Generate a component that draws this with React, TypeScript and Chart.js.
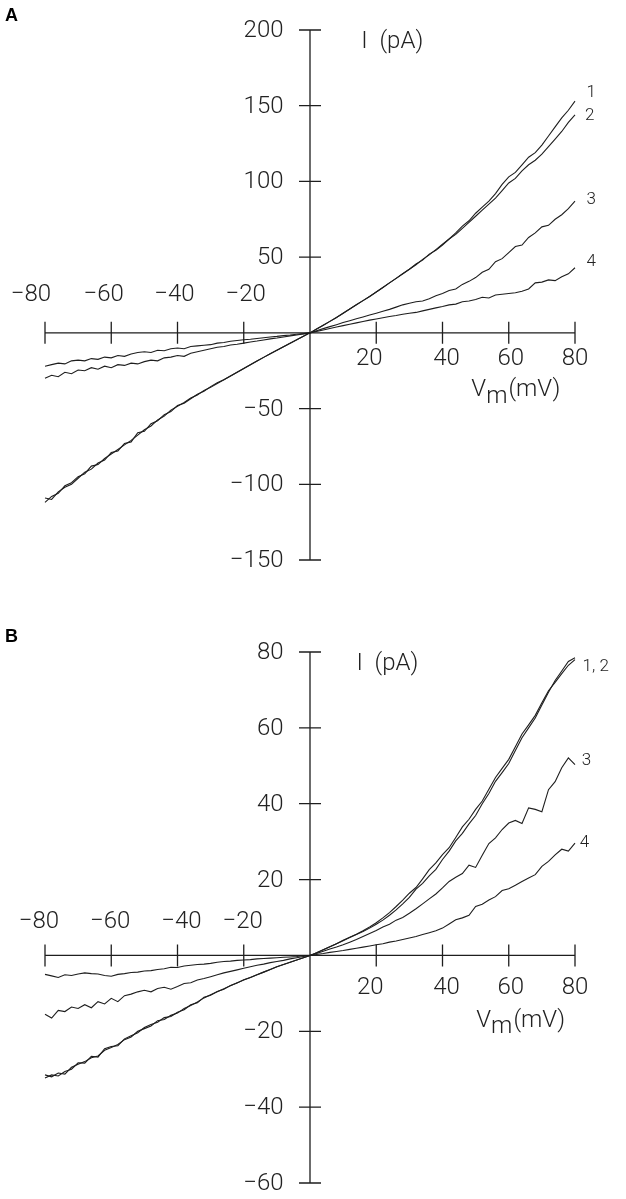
import React, { useEffect, useRef } from 'react';
import { Chart, registerables } from 'chart.js';

Chart.register(...registerables);

// Membrane potential (mV), sampled every 2 mV
const voltages = [
  -80, -78, -76, -74, -72, -70, -68, -66, -64, -62, -60, -58, -56, -54, -52, -50, -48, -46, -44, -42,
  -40, -38, -36, -34, -32, -30, -28, -26, -24, -22, -20, -18, -16, -14, -12, -10, -8, -6, -4, -2, 0,
  2, 4, 6, 8, 10, 12, 14, 16, 18, 20, 22, 24, 26, 28, 30, 32, 34, 36, 38, 40,
  42, 44, 46, 48, 50, 52, 54, 56, 58, 60, 62, 64, 66, 68, 70, 72, 74, 76, 78, 80,
];

// Panel A currents (pA)
const a1 = [
  -112, -108, -106, -101, -99, -95, -93, -88, -87, -83, -80, -77, -74, -71, -67.5, -64, -61.5, -57.5, -55, -51,
  -48.5, -46, -43, -41, -38, -36, -33.5, -31, -28.5, -26, -23.5, -21, -18.6, -16.2, -13.8, -11.5, -9.2, -6.9, -4.6, -2.3, 0,
  2.5, 5, 7.6, 10.2, 13, 15.8, 18.5, 21.3, 24, 27, 30, 33, 36, 39, 42, 45, 48.5, 51.5, 55, 58.5,
  62, 66, 70.5, 74, 79, 83, 87, 92, 98, 103, 106, 111, 116, 119, 124, 130, 136, 142, 147, 153,
];
const a2 = [
  -109, -110, -105, -102, -100, -96, -92, -90, -86, -84, -79, -78, -73, -72, -66, -65, -60, -58, -54, -52,
  -48, -46.5, -43.5, -40.5, -38.5, -35.5, -33, -31, -28.5, -26, -23.5, -21, -18.6, -16.2, -13.8, -11.5, -9.2, -6.9, -4.6, -2.3, 0,
  2.5, 5, 7.6, 10.2, 13, 15.8, 18.5, 21.3, 24, 27, 30, 33, 36, 39, 42, 45.5, 48, 52, 54.5, 58,
  62, 65, 69, 73, 77, 81, 85, 89, 94, 99, 102, 107, 111, 114, 118, 123, 128, 133, 139, 144,
];
const a3 = [
  -30, -28, -29, -26, -27, -24.5, -25, -23, -24, -22, -23, -21, -21.5, -20, -20.5, -19, -18, -18.5, -16.5, -16,
  -15, -15.5, -13.5, -12.5, -11.5, -10.5, -9.5, -9, -8, -7.5, -6.8, -6, -5.4, -4.7, -4, -3.4, -2.7, -2, -1.4, -0.7, 0,
  1.4, 2.8, 4.1, 5.4, 6.8, 8, 9.3, 10.5, 11.8, 13, 14.3, 15.5, 17, 18.5, 19.5, 20.5, 21, 22.5, 24.5, 26,
  28, 29, 32, 34, 36.5, 40, 42, 47, 49, 53, 57, 58, 63, 66, 70, 71, 75, 78, 82, 87,
];
const a4 = [
  -22, -21, -20, -20.5, -18.5, -18, -18.5, -17, -17.5, -16, -16.5, -15, -15.5, -14, -13, -12.5, -13, -11.5, -11.8, -10.5,
  -10, -10.5, -9, -8.6, -8.2, -7.8, -6.8, -6.4, -5.5, -5, -4.6, -4.2, -3.7, -3.2, -2.7, -2.3, -1.8, -1.4, -0.9, -0.5, 0,
  1, 1.9, 2.9, 3.9, 4.8, 5.7, 6.6, 7.5, 8.4, 9.2, 10, 10.8, 11.5, 12.3, 13, 13.5, 14.5, 15.5, 16.5, 17.4,
  18.5, 19, 20.5, 21, 22, 23.5, 23, 25, 25.5, 26, 26.5, 27.5, 29, 33, 33.5, 35, 34.5, 37, 39, 43,
];

// Panel B currents (pA)
const b1 = [
  -31.5, -32, -31, -31.3, -29.5, -28.7, -28, -27, -26.5, -25, -24.3, -23.5, -22.2, -21.5, -20, -19.3, -18.6, -17.2, -16.9, -15.8,
  -15.2, -14, -13.2, -12.3, -11.2, -10.4, -9.6, -8.8, -8, -7.2, -6.5, -5.8, -5.1, -4.4, -3.7, -3, -2.4, -1.8, -1.2, -0.6, 0,
  0.7, 1.5, 2.3, 3.1, 4, 4.8, 5.6, 6.5, 7.5, 8.6, 9.9, 11.3, 12.9, 14.6, 16.4, 17.9, 20.2, 22.6, 24.4, 26.6,
  28.4, 31.1, 33.9, 35.9, 38.5, 40.7, 43.8, 46.9, 49.3, 51.7, 55, 58.4, 60.8, 63.3, 66.6, 69.8, 72, 74.3, 76.5, 78,
];
const b2 = [
  -32.3, -31.5, -31.8, -30.6, -30, -28.3, -28.4, -26.6, -26.8, -24.6, -24, -23.8, -22, -21.2, -20.4, -19, -18.2, -17.6, -16.4, -16.1,
  -15, -14.3, -13, -12.5, -11, -10.5, -9.5, -8.9, -7.9, -7.3, -6.4, -5.8, -5.1, -4.4, -3.7, -3, -2.4, -1.8, -1.2, -0.6, 0,
  0.7, 1.5, 2.3, 3.1, 3.9, 4.7, 5.5, 6.3, 7.2, 8.2, 9.3, 10.6, 12, 13.6, 15.3, 17.5, 19, 21, 22.7, 25.3,
  27.5, 30.2, 32.2, 34.7, 36.9, 40, 42.7, 45.9, 48.2, 50.6, 54, 57.4, 60, 62.6, 66, 69.4, 72.5, 75, 77.5, 78.5,
];
const b3 = [
  -15.5, -16.5, -14.5, -14.8, -13.6, -14, -13, -13.8, -12.2, -12.8, -11.3, -12.2, -10.6, -10.2, -9.6, -9.2, -9.6, -8.7, -8.4, -8.9,
  -8.2, -7.4, -7.2, -6.5, -6.1, -5.6, -5.1, -4.6, -4.2, -3.8, -3.4, -3, -2.6, -2.3, -1.9, -1.6, -1.3, -0.9, -0.6, -0.3, 0,
  0.5, 1.1, 1.7, 2.2, 2.8, 3.5, 4.2, 5, 5.8, 6.6, 7.5, 8.2, 9.3, 10, 11.1, 12.3, 13.6, 14.9, 16.2, 17.8,
  19.5, 20.6, 21.6, 23.8, 23.2, 26.4, 29.5, 31, 33.2, 34.9, 35.6, 34.8, 38.9, 38.5, 37.9, 43.7, 45.8, 49.5, 52.1, 50.3,
];
const b4 = [
  -5, -5.4, -5.8, -5.1, -5.3, -4.9, -4.6, -4.8, -4.9, -5.3, -5.5, -5, -4.8, -4.5, -4.4, -4.1, -4, -3.7, -3.5, -3.1,
  -3.2, -2.8, -2.6, -2.4, -2.3, -2.1, -1.8, -1.6, -1.5, -1.3, -1.2, -1.1, -0.9, -0.8, -0.7, -0.6, -0.5, -0.4, -0.3, -0.1, 0,
  0.25, 0.5, 0.8, 1.05, 1.3, 1.6, 1.9, 2.2, 2.5, 2.8, 3.1, 3.5, 3.8, 4.2, 4.6, 5, 5.5, 6, 6.5, 7.2,
  8.3, 9.4, 9.9, 10.6, 12.9, 13.5, 14.6, 15.5, 17.1, 17.6, 18.5, 19.5, 20.4, 21.3, 23.5, 24.8, 26.5, 28, 27.5, 29.6,
];

// Tick values
const xTicks = [-80, -60, -40, -20, 20, 40, 60, 80];
const yTicksA = [200, 150, 100, 50, -50, -100, -150];
const yTicksB = [80, 60, 40, 20, -20, -40, -60];

const INK = '#1e1e1e';
const TICK_FONT = '300 24px Roboto, "Liberation Sans", sans-serif';
const SMALL_FONT = '300 17px Roboto, "Liberation Sans", sans-serif';
const LETTER_FONT = 'bold 18px "Liberation Sans", Arial, sans-serif';

type PanelCfg = {
  letter: string;
  letterY: number;
  series: number[][];
  yMin: number;
  yMax: number;
  yTicks: number[];
  padding: { left: number; right: number; top: number; bottom: number };
  negLabelDy: number;
  posLabelDy: number;
  negNudge: number[];
  posNudge: number[];
  yTitle: { v: number; i: number };
  xTitle: { v: number; i: number };
  curveLabels: { text: string; v: number; i: number }[];
  height: number;
  top: number;
};

const panelA: PanelCfg = {
  letter: 'A',
  letterY: 21,
  series: [a1, a2, a3, a4],
  yMin: -150,
  yMax: 200,
  yTicks: yTicksA,
  padding: { left: 45, right: 51, top: 30, bottom: 40 },
  negLabelDy: -37.5,
  posLabelDy: 26,
  negNudge: [-14, -7.5, -3, 2],
  posNudge: [-7, 4, 2, 0],
  yTitle: { v: 15.5, i: 188 },
  xTitle: { v: 48.7, i: -42 },
  curveLabels: [
    { text: '1', v: 83.5, i: 158.7 },
    { text: '2', v: 83, i: 143.3 },
    { text: '3', v: 83.5, i: 87.8 },
    { text: '4', v: 83.5, i: 46.9 },
  ],
  height: 600,
  top: 0,
};

const panelB: PanelCfg = {
  letter: 'B',
  letterY: 42,
  series: [b1, b2, b3, b4],
  yMin: -60,
  yMax: 80,
  yTicks: yTicksB,
  padding: { left: 45, right: 51, top: 52, bottom: 16 },
  negLabelDy: -33.5,
  posLabelDy: 33,
  negNudge: [-6, -1, 4, -1],
  posNudge: [-6, 4, 2, 0],
  yTitle: { v: 14, i: 75.2 },
  xTitle: { v: 50.2, i: -18.8 },
  curveLabels: [
    { text: '1, 2', v: 82.3, i: 76 },
    { text: '3', v: 82, i: 51.3 },
    { text: '4', v: 81.4, i: 29.6 },
  ],
  height: 599,
  top: 600,
};

function makeAxesPlugin(cfg: PanelCfg) {
  return {
    id: 'ivAxes' + cfg.letter,
    beforeDatasetsDraw(chart: any) {
      const ctx = chart.ctx as CanvasRenderingContext2D;
      const xs = chart.scales.x;
      const ys = chart.scales.y;
      const x0 = xs.getPixelForValue(0);
      const y0 = ys.getPixelForValue(0);
      const tl = 11;
      ctx.save();
      ctx.strokeStyle = INK;
      ctx.lineWidth = 1.3;
      ctx.beginPath();
      // x axis
      ctx.moveTo(xs.getPixelForValue(xTicks[0]), y0);
      ctx.lineTo(xs.getPixelForValue(xTicks[xTicks.length - 1]), y0);
      // y axis
      ctx.moveTo(x0, ys.getPixelForValue(cfg.yMax));
      ctx.lineTo(x0, ys.getPixelForValue(cfg.yMin));
      xTicks.forEach((t) => {
        const px = xs.getPixelForValue(t);
        ctx.moveTo(px, y0 - tl);
        ctx.lineTo(px, y0 + tl);
      });
      cfg.yTicks.forEach((t) => {
        const py = ys.getPixelForValue(t);
        ctx.moveTo(x0 - tl, py);
        ctx.lineTo(x0 + tl, py);
      });
      ctx.stroke();

      ctx.fillStyle = '#222';
      ctx.font = TICK_FONT;
      ctx.textBaseline = 'middle';
      // y tick labels
      ctx.textAlign = 'right';
      cfg.yTicks.forEach((t) => {
        const py = ys.getPixelForValue(t);
        ctx.fillText(t < 0 ? '\u2212' + Math.abs(t) : String(t), x0 - 26.5, py + 1);
      });
      // x tick labels
      ctx.textAlign = 'center';
      let ni = 0;
      let pi = 0;
      xTicks.forEach((t) => {
        const px = xs.getPixelForValue(t);
        if (t < 0) {
          ctx.fillText('\u2212' + Math.abs(t), px + cfg.negNudge[ni++], y0 + cfg.negLabelDy);
        } else {
          ctx.fillText(String(t), px + cfg.posNudge[pi++], y0 + cfg.posLabelDy);
        }
      });
      // axis titles
      ctx.textAlign = 'left';
      ctx.textBaseline = 'alphabetic';
      ctx.fillText('I  (pA)', xs.getPixelForValue(cfg.yTitle.v), ys.getPixelForValue(cfg.yTitle.i));
      let tx = xs.getPixelForValue(cfg.xTitle.v);
      const ty = ys.getPixelForValue(cfg.xTitle.i);
      ctx.fillText('V', tx, ty);
      tx += ctx.measureText('V').width;
      ctx.fillText('m', tx, ty + 6.5);
      tx += ctx.measureText('m').width + 1;
      ctx.fillText('(mV)', tx, ty);
      // curve labels
      ctx.font = SMALL_FONT;
      ctx.textBaseline = 'middle';
      cfg.curveLabels.forEach((l) => {
        ctx.fillText(l.text, xs.getPixelForValue(l.v), ys.getPixelForValue(l.i));
      });
      // panel letter
      ctx.font = LETTER_FONT;
      ctx.fillStyle = '#000';
      ctx.textBaseline = 'alphabetic';
      ctx.fillText(cfg.letter, 5, cfg.letterY);
      ctx.restore();
    },
  };
}

function Panel({ cfg }: { cfg: PanelCfg }) {
  const ref = useRef<HTMLCanvasElement | null>(null);
  useEffect(() => {
    if (!ref.current) return;
    const chart = new Chart(ref.current, {
      type: 'line',
      data: {
        datasets: cfg.series.map((s, k) => ({
          label: 'curve ' + (k + 1),
          data: voltages.map((v, i) => ({ x: v, y: s[i] })),
          borderColor: INK,
          borderWidth: 1.1,
          pointRadius: 0,
          tension: 0,
          fill: false,
          clip: false as any,
        })),
      },
      options: {
        animation: false,
        responsive: false,
        maintainAspectRatio: false,
        layout: { padding: cfg.padding },
        plugins: { legend: { display: false }, tooltip: { enabled: false } },
        scales: {
          x: { type: 'linear', min: -80, max: 80, display: false },
          y: { type: 'linear', min: cfg.yMin, max: cfg.yMax, display: false },
        },
      },
      plugins: [makeAxesPlugin(cfg)],
    } as any);
    return () => chart.destroy();
  }, [cfg]);
  return (
    <canvas
      ref={ref}
      width={626}
      height={cfg.height}
      style={{ position: 'absolute', left: 0, top: cfg.top, width: 626, height: cfg.height }}
    />
  );
}

export default function App() {
  return (
    <div style={{ position: 'absolute', left: 0, top: 0, width: 626, height: 1199, background: '#fff' }}>
      <Panel cfg={panelA} />
      <Panel cfg={panelB} />
    </div>
  );
}
